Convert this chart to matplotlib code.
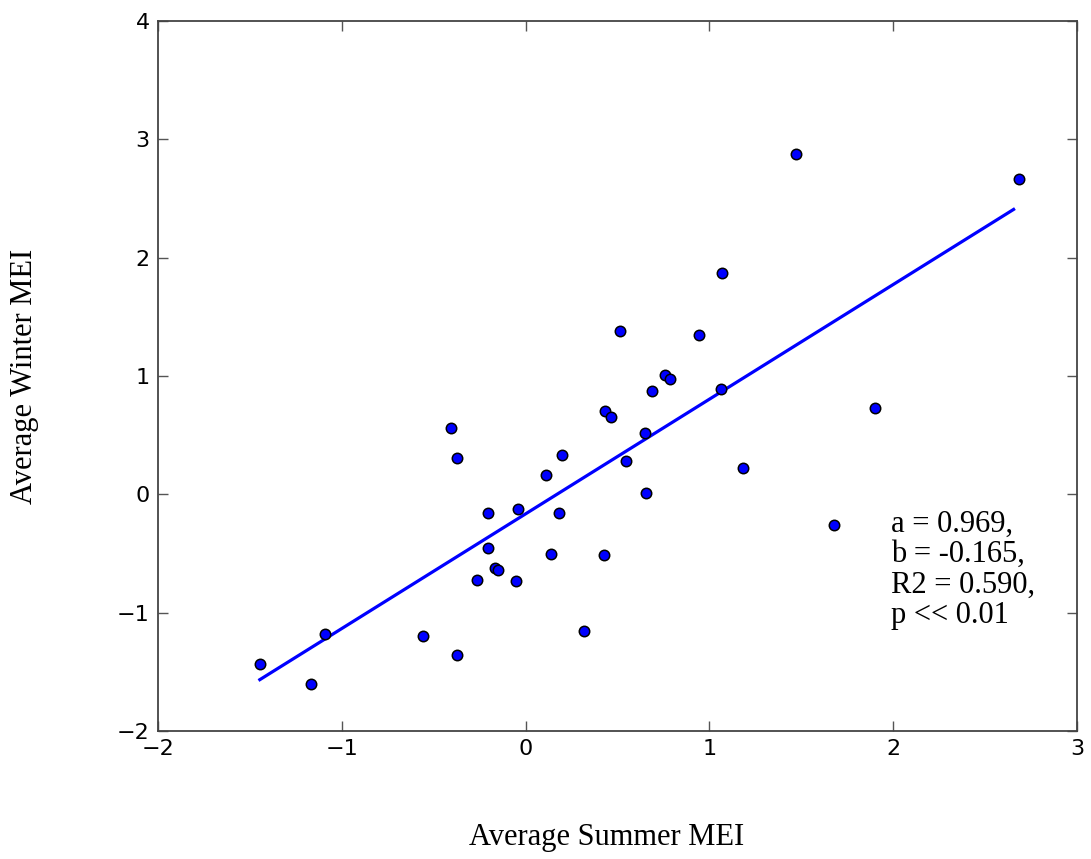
import numpy as np
import matplotlib
matplotlib.use('Agg')
import matplotlib.pyplot as plt

# average summer / winter MEI
summer_mei = [-1.446, -1.170, -1.089, -0.558, -0.375, -0.404, -0.375, -0.205, -0.042,
              -0.205, -0.165, -0.151, -0.263, -0.051, 0.112, 0.199, 0.181, 0.140, 0.319,
              0.429, 0.433, 0.464, 0.545, 0.649, 0.657, 0.511, 0.946, 0.761, 0.788,
              0.689, 1.063, 1.067, 1.181, 1.901, 1.676, 1.471, 2.685]
winter_mei = [-1.431, -1.606, -1.183, -1.198, -1.355, 0.558, 0.310, -0.158, -0.121,
              -0.456, -0.626, -0.640, -0.727, -0.735, 0.167, 0.332, -0.158, -0.507, -1.158,
              -0.510, 0.706, 0.653, 0.283, 0.516, 0.008, 1.378, 1.350, 1.006, 0.972,
              0.873, 0.893, 1.868, 0.226, 0.733, -0.260, 2.874, 2.669]

# regression results
slope = 0.969
intercept = -0.165
stats_lines = ['a = 0.969,', 'b = -0.165,', 'R2 = 0.590,', 'p << 0.01']

serif = ['Liberation Serif', 'DejaVu Serif']

fig = plt.figure(figsize=(10.91, 8.59), dpi=100)
ax = fig.add_axes([158/1091, 1-731/859, (1077-158)/1091, (731-21)/859])

xs = np.array([min(summer_mei), max(summer_mei) - 0.03])
ax.plot(xs, slope*xs + intercept, color='blue', lw=2.3, zorder=2)
ax.plot(summer_mei, winter_mei, 'o', color='blue', markeredgecolor='black',
        markersize=7.5, markeredgewidth=1.1, linestyle='None', zorder=3)

ax.set_xlim(-2, 3)
ax.set_ylim(-2, 4)
ax.set_xticks([-2, -1, 0, 1, 2, 3])
ax.set_yticks([-2, -1, 0, 1, 2, 3, 4])
ax.tick_params(direction='in', length=7, width=1, top=True, right=True,
               labelsize=16, pad=6, color='#555555')
for s in ax.spines.values():
    s.set_linewidth(1.3)
    s.set_color('#444444')

ax.text(1.99, -0.13, '\n'.join(stats_lines), family=serif, fontsize=22,
        va='top', ha='left', linespacing=1.06)

fig.text(607/1091, 1-838/859, 'Average Summer MEI', family=serif, fontsize=22,
         ha='center', va='center')
fig.text(25/1091, 1-376/859, 'Average Winter MEI', family=serif, fontsize=22,
         ha='center', va='center', rotation=90)

plt.savefig('out.png', dpi=100)
